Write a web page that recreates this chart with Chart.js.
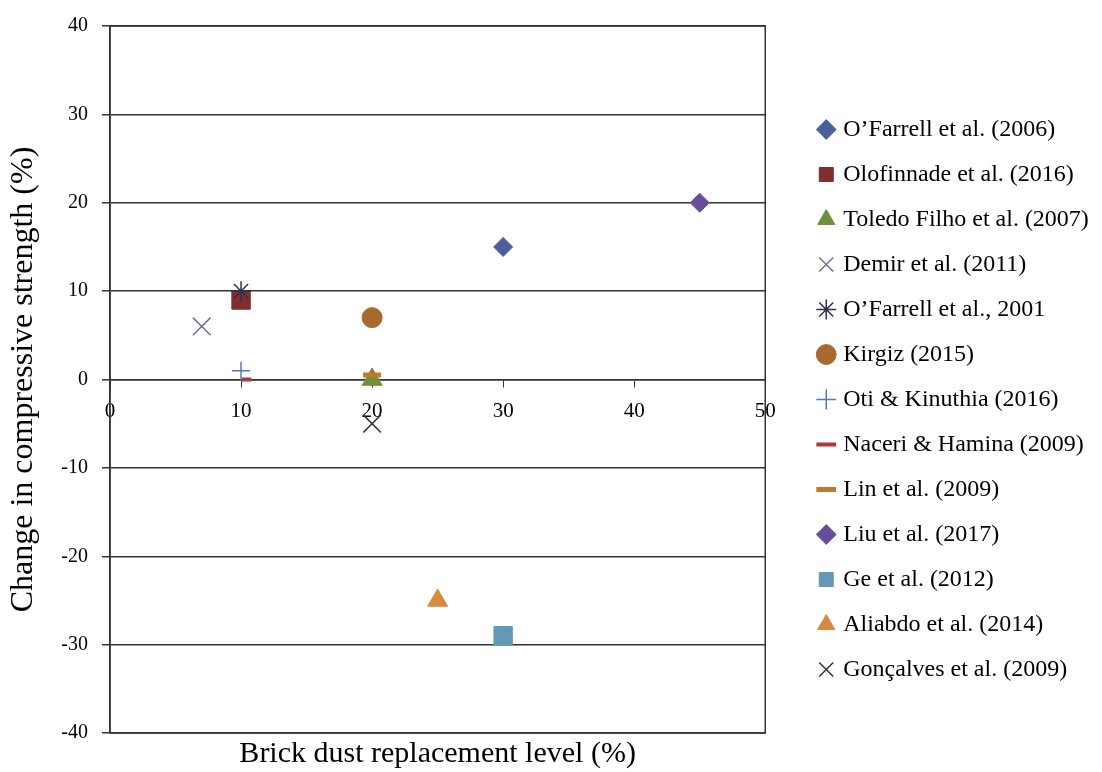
<!DOCTYPE html>
<html>
<head>
<meta charset="utf-8">
<script src="https://cdn.jsdelivr.net/npm/chart.js@4.4.1/dist/chart.umd.min.js"></script>
<style>
  html, body { margin: 0; padding: 0; background: #fff; }
  #wrap { width: 1102px; height: 772px; }
</style>
</head>
<body>
<div id="wrap"><canvas id="scatterChart"></canvas></div>
<script>
// studies, in legend order
const studies = [
  "O\u2019Farrell et al. (2006)",
  "Olofinnade et al. (2016)",
  "Toledo Filho et al. (2007)",
  "Demir et al. (2011)",
  "O\u2019Farrell et al., 2001",
  "Kirgiz (2015)",
  "Oti & Kinuthia (2016)",
  "Naceri & Hamina (2009)",
  "Lin et al. (2009)",
  "Liu et al. (2017)",
  "Ge et al. (2012)",
  "Aliabdo et al. (2014)",
  "Gon\u00e7alves et al. (2009)"
];
// brick dust replacement level (%)
const replacement = [30, 10, 20, 7, 10, 20, 10, 10.4, 20, 45, 30, 25, 20];
// change in compressive strength (%)
const strengthChange = [15, 9, 0, 6, 10, 7, 1, 0, 0.5, 20, -29, -25, -5];

const xTicks = [0, 10, 20, 30, 40, 50];
const yTicks = [-40, -30, -20, -10, 0, 10, 20, 30, 40];

// marker look per study
const markerStyle = ["rectRot", "rect", "triangle", "crossRot", "star", "circle", "cross", "line", "line", "rectRot", "rect", "triangle", "crossRot"];
const markerFill = ["#4a5f9c", "#7f2f2f", "#6f8f3a", "#7a6a9e", "#2f2f4f", "#a8692e", "#5a74c4", "#a83a3a", "#8fa84a", "#6a4c9c", "#6497b8", "#d88a3e", "#333333"];
const markerLine = ["#4a5f9c", "#7f2f2f", "#6f8f3a", "#7a6a9e", "#2f2f4f", "#a8692e", "#5a74c4", "#a83a3a", "#c0782e", "#6a4c9c", "#6497b8", "#d88a3e", "#333333"];
const markerSize = [9.5, 13, 11.5, 12.5, 10, 10, 9, 5, 9, 9.5, 13, 11.5, 12.5];
const markerWidth = [1, 1, 1, 1.5, 1.5, 1, 1.5, 4, 5, 1, 1, 1, 1.5];
const drawOrder = [0, 0, 0, 0, -1, 0, 0, 0, -1, 0, 0, 0, 0];

const datasets = studies.map((name, i) => ({
  label: name,
  data: [{ x: replacement[i], y: strengthChange[i] }],
  pointStyle: markerStyle[i],
  backgroundColor: markerFill[i],
  borderColor: markerLine[i],
  borderWidth: markerWidth[i],
  pointRadius: markerSize[i],
  pointHoverRadius: markerSize[i],
  order: drawOrder[i]
}));

// box round the plot area
const frame = {
  id: "frame",
  afterDraw(chart) {
    const a = chart.chartArea;
    const ctx = chart.ctx;
    ctx.save();
    ctx.strokeStyle = "#333";
    ctx.lineWidth = 1.5;
    ctx.strokeRect(a.left, a.top, a.right - a.left, a.bottom - a.top);
    ctx.restore();
  }
};

// legend sits a bit away from the plot and may use the rest of the width
const legendGap = {
  id: "legendGap",
  afterLayout(chart) {
    const lg = chart.legend;
    lg.left = chart.chartArea.right + 35;
    lg.right = chart.width;
    lg.width = lg.right - lg.left;
  }
};

const serif = "'Liberation Serif', 'Times New Roman', serif";

new Chart(document.getElementById("scatterChart"), {
  type: "scatter",
  data: { datasets: datasets },
  plugins: [frame, legendGap],
  options: {
    responsive: true,
    maintainAspectRatio: false,
    animation: false,
    layout: { padding: { left: 4, top: 5, right: 83, bottom: 0 } },
    scales: {
      x: {
        type: "linear",
        min: 0,
        max: 50,
        position: { y: 0 },
        afterBuildTicks: (scale) => { scale.ticks = xTicks.map(v => ({ value: v })); },
        ticks: { font: { family: serif, size: 21 }, color: "#000", padding: 12 },
        grid: { drawOnChartArea: false, color: "#333", tickLength: 7 },
        border: { color: "#333", width: 1.5 }
      },
      y: {
        min: -40,
        max: 40,
        afterBuildTicks: (scale) => { scale.ticks = yTicks.map(v => ({ value: v })); },
        afterFit: (scale) => { scale.width = 106; },
        ticks: { font: { family: serif, size: 20 }, color: "#000", padding: 14 },
        grid: { color: "#333", lineWidth: 1.5, tickLength: 8 },
        border: { color: "#333", width: 1.5 },
        title: {
          display: true,
          text: "Change in compressive strength (%)",
          font: { family: serif, size: 32 },
          color: "#000",
          padding: 0
        }
      }
    },
    plugins: {
      legend: {
        position: "right",
        title: { display: true, text: " ", padding: 5, font: { size: 10 } },
        labels: {
          usePointStyle: true,
          boxHeight: 14,
          boxWidth: 10,
          padding: 21,
          font: { family: serif, size: 24 },
          color: "#000",
          sort: (a, b) => a.datasetIndex - b.datasetIndex
        }
      },
      title: {
        display: true,
        position: "bottom",
        fullSize: false,
        text: "Brick dust replacement level (%)",
        font: { family: serif, size: 30, weight: "normal" },
        color: "#000",
        padding: { top: 3, bottom: 0 }
      },
      tooltip: { enabled: false }
    }
  }
});
</script>
</body>
</html>
